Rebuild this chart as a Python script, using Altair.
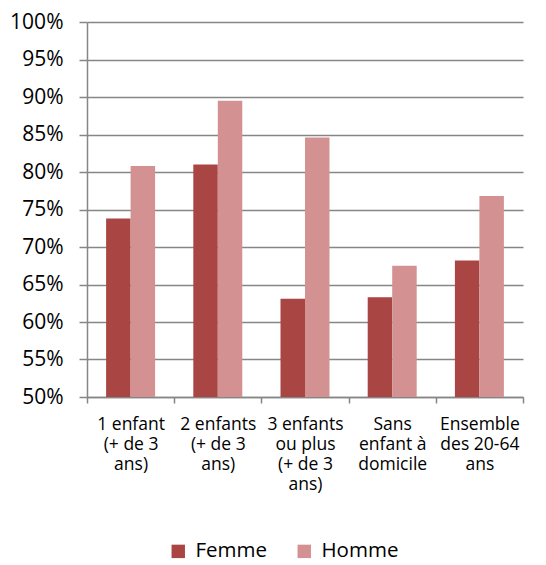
import altair as alt
import pandas as pd

categories = [
    "1 enfant|(+ de 3|ans)",
    "2 enfants|(+ de 3|ans)",
    "3 enfants|ou plus|(+ de 3|ans)",
    "Sans|enfant à|domicile",
    "Ensemble|des 20-64|ans",
]
series = ["Femme", "Homme"]
femme = [0.738, 0.810, 0.631, 0.633, 0.682]
homme = [0.808, 0.895, 0.846, 0.675, 0.768]
y_ticks = [0.50, 0.55, 0.60, 0.65, 0.70, 0.75, 0.80, 0.85, 0.90, 0.95, 1.00]
colors = ["#A94543", "#D39291"]

rows = []
for c, f, h in zip(categories, femme, homme):
    rows.append({"cat": c, "sexe": "Femme", "val": f})
    rows.append({"cat": c, "sexe": "Homme", "val": h})
df = pd.DataFrame(rows)

FONT = "Open Sans"
GRAY = "#868686"

chart = alt.Chart(df).mark_bar().encode(
    x=alt.X(
        "cat:N",
        sort=categories,
        scale=alt.Scale(paddingInner=0, paddingOuter=0),
        axis=alt.Axis(
            title=None,
            labelAngle=0,
            labelExpr="isValid(datum.value) ? split(datum.value, '|') : ''",
            labelFontSize=17.5,
            labelFont=FONT,
            labelColor="#000000",
            labelBaseline="top",
            labelLineHeight=20,
            labelPadding=12,
            tickBand="extent",
            tickSize=6,
            tickColor=GRAY,
            domainColor=GRAY,
            domainWidth=1.5,
            tickWidth=1.5,
            grid=False,
        ),
    ),
    xOffset=alt.XOffset(
        "sexe:N", sort=series, scale=alt.Scale(paddingInner=0, paddingOuter=0.78)
    ),
    y=alt.Y(
        "val:Q",
        scale=alt.Scale(domain=[0.5, 1.0], zero=False, nice=False),
        axis=alt.Axis(
            title=None,
            values=y_ticks,
            format=".0%",
            labelFontSize=21,
            labelFont=FONT,
            labelColor="#000000",
            labelPadding=16,
            tickSize=8,
            tickColor=GRAY,
            tickWidth=1.5,
            domainColor=GRAY,
            domainWidth=1.5,
            grid=True,
            gridColor=GRAY,
            gridWidth=1.5,
        ),
    ),
    y2=alt.datum(0.5),
    color=alt.Color(
        "sexe:N",
        sort=series,
        scale=alt.Scale(domain=series, range=colors),
        legend=alt.Legend(
            title=None,
            orient="none",
            direction="horizontal",
            legendX=81,
            legendY=519,
            symbolType="square",
            symbolSize=180,
            symbolStrokeWidth=0,
            labelFontSize=20.5,
            labelFont=FONT,
            labelColor="#000000",
            columnPadding=26,
            labelOffset=7,
        ),
    ),
).properties(
    width=436,
    height=375,
    autosize=alt.AutoSizeParams(type="none"),
    padding={"left": 79, "top": 14, "right": 15, "bottom": 170},
).configure_view(stroke=None)

chart.save("out.html", embed_options={"renderer": "svg", "actions": False})
